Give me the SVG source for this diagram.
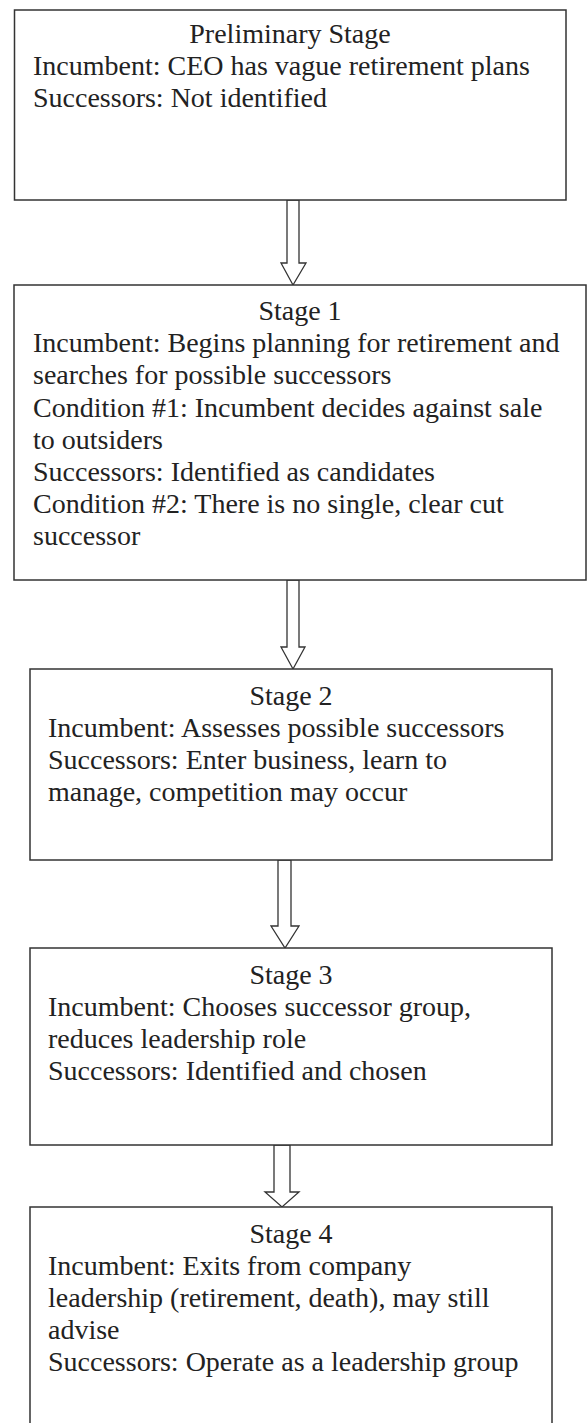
<svg xmlns="http://www.w3.org/2000/svg" width="587" height="1423" viewBox="0 0 587 1423">
<style>
.box{fill:#fff;stroke:#333;stroke-width:1.5}
.arr{fill:#fff;stroke:#333;stroke-width:1.3;stroke-linejoin:miter}
text{font-family:"Liberation Serif","Times New Roman",serif;font-size:28px;fill:#222}
.t{text-anchor:middle}
</style>
<rect width="587" height="1423" fill="#fff"/>
<g id="connectors">
<polygon class="arr" points="287,200 299,200 299,263 306,263 293,285 281,263 287,263"/>
<polygon class="arr" points="287,580 299,580 299,647 305,647 293,669 281,647 287,647"/>
<polygon class="arr" points="278,860 291,860 291,926 299,926 285,948 271,926 278,926"/>
<polygon class="arr" points="274,1145 290,1145 290,1192 299,1192 282,1207 265,1192 274,1192"/>
</g>
<g id="prelim">
<rect class="box" x="14.5" y="10" width="551.5" height="190"/>
<text class="t" x="290" y="43">Preliminary Stage</text>
<text x="33" y="75">Incumbent: CEO has vague retirement plans</text>
<text x="33" y="107">Successors: Not identified</text>
</g>
<g id="stage1">
<rect class="box" x="14" y="285" width="572" height="295"/>
<text class="t" x="300" y="320">Stage 1</text>
<text x="33" y="352">Incumbent: Begins planning for retirement and</text>
<text x="33" y="384">searches for possible successors</text>
<text x="33" y="417">Condition #1: Incumbent decides against sale</text>
<text x="33" y="449">to outsiders</text>
<text x="33" y="481">Successors: Identified as candidates</text>
<text x="33" y="513">Condition #2: There is no single, clear cut</text>
<text x="33" y="545">successor</text>
</g>
<g id="stage2">
<rect class="box" x="30" y="669" width="522" height="191"/>
<text class="t" x="291" y="705">Stage 2</text>
<text x="48" y="737">Incumbent: Assesses possible successors</text>
<text x="48" y="769">Successors: Enter business, learn to</text>
<text x="48" y="801">manage, competition may occur</text>
</g>
<g id="stage3">
<rect class="box" x="30" y="948" width="522" height="197"/>
<text class="t" x="291" y="984">Stage 3</text>
<text x="48" y="1016">Incumbent: Chooses successor group,</text>
<text x="48" y="1048">reduces leadership role</text>
<text x="48" y="1080">Successors: Identified and chosen</text>
</g>
<g id="stage4">
<rect class="box" x="30" y="1207" width="522" height="230"/>
<text class="t" x="291" y="1243">Stage 4</text>
<text x="48" y="1275">Incumbent: Exits from company</text>
<text x="48" y="1307">leadership (retirement, death), may still</text>
<text x="48" y="1339">advise</text>
<text x="48" y="1371">Successors: Operate as a leadership group</text>
</g>
</svg>
